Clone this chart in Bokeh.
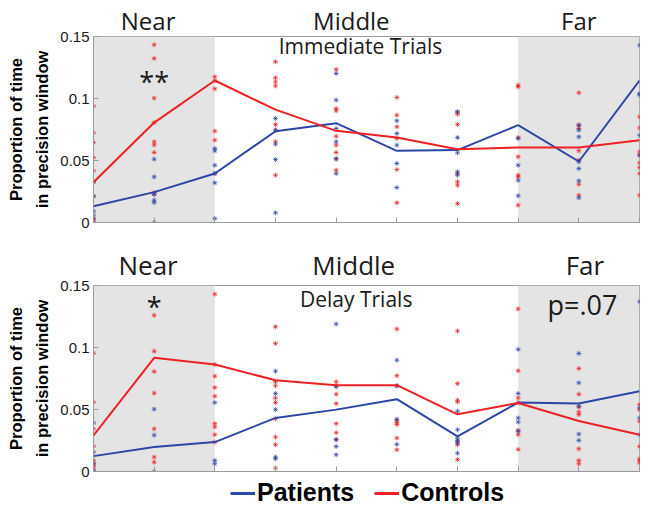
from bokeh.plotting import figure
from bokeh.models import (BoxAnnotation, Label, FixedTicker, Range1d, Legend, LegendItem, LinearAxis)
from bokeh.layouts import column
from bokeh.embed import file_html
from bokeh.resources import INLINE

# ---------------- data ----------------
positions = [1, 2, 3, 4, 5, 6, 7, 8, 9, 10]
y_ticks = [0, 0.05, 0.1, 0.15]
y_tick_labels = {0: "0", 0.05: "0.05", 0.1: "0.1", 0.15: "0.15"}
zone_names = ["Near", "Middle", "Far"]
series_names = ["Patients", "Controls"]
panel_titles = ["Immediate Trials", "Delay Trials"]
sig_marks = ["**", "*", "p=.07"]
y_label_lines = ["Proportion of time", "in precision window"]

imm_patients_mean = [0.0131, 0.0245, 0.0395, 0.0736, 0.0801, 0.0578, 0.0584, 0.0785, 0.0492, 0.1145]
imm_controls_mean = [0.0325, 0.0806, 0.1145, 0.0910, 0.0739, 0.0685, 0.0590, 0.0605, 0.0605, 0.0664]
del_patients_mean = [0.0124, 0.0197, 0.0237, 0.0432, 0.0499, 0.0583, 0.0283, 0.0556, 0.0548, 0.0647]
del_controls_mean = [0.0291, 0.0917, 0.0863, 0.0736, 0.0696, 0.0696, 0.0461, 0.0553, 0.0407, 0.0297]

imm_patients_pts = [
    [0.0328, 0.0212, 0.0091, 0.0059, 0.0032, 0.0],
    [0.0511, 0.0368, 0.0228, 0.0180, 0.0161, 0.0],
    [0.0597, 0.0578, 0.0462, 0.0395, 0.0320, 0.0032],
    [0.0839, 0.0745, 0.0632, 0.0508, 0.0078],
    [0.1202, 0.0987, 0.0758, 0.0651, 0.0516, 0.0395],
    [0.0820, 0.0718, 0.0624, 0.0476, 0.0282],
    [0.0892, 0.0685, 0.0562, 0.0409, 0.0382],
    [0.0677, 0.0462, 0.0341, 0.0215],
    [0.0785, 0.0745, 0.0691, 0.0489, 0.0435, 0.0336, 0.0199],
    [0.1430, 0.1040, 0.1027, 0.0704, 0.0543],
]
imm_controls_pts = [
    [0.0938, 0.0723, 0.0645, 0.0524, 0.0417, 0.0328, 0.0212, 0.0032, 0.0013],
    [0.1433, 0.1323, 0.1003, 0.0806, 0.0650, 0.0626, 0.0565, 0.0242, 0.0228],
    [0.1175, 0.1142, 0.1078, 0.0737, 0.0664, 0.0395],
    [0.1296, 0.1167, 0.1134, 0.1102, 0.0790, 0.0745, 0.0651, 0.0382],
    [0.1234, 0.0919, 0.0901, 0.0696, 0.0624, 0.0565, 0.0511, 0.0422],
    [0.1008, 0.0866, 0.0772, 0.0677, 0.0427, 0.0159],
    [0.0892, 0.0874, 0.0790, 0.0395, 0.0328, 0.0301, 0.0153],
    [0.1108, 0.1094, 0.0685, 0.0530, 0.0382, 0.0368, 0.0140],
    [0.1046, 0.0785, 0.0758, 0.0578, 0.0503, 0.0309, 0.0220],
    [0.0852, 0.0763, 0.0570, 0.0543, 0.0481, 0.0444, 0.0395, 0.0220],
]
del_patients_pts = [
    [0.0392, 0.0156, 0.0062, 0.0008],
    [0.0503, 0.0293, 0.0],
    [0.0556, 0.0089, 0.0062],
    [0.0809, 0.0629, 0.0499, 0.0116, 0.0103],
    [0.1190, 0.0683, 0.0256, 0.0202, 0.0135],
    [0.0898, 0.0691, 0.0421, 0.0219],
    [0.0486, 0.0337, 0.0270, 0.0251, 0.0229, 0.0148],
    [0.0985, 0.0629, 0.0432, 0.0399, 0.0324],
    [0.0952, 0.0715, 0.0526, 0.0302, 0.0251],
    [0.1370, 0.0513, 0.0432, 0.0297],
]
del_controls_pts = [
    [0.0954, 0.0559, 0.0344, 0.0204, 0.0089, 0.0067, 0.0048, 0.0027],
    [0.1260, 0.0970, 0.0806, 0.0632, 0.0344, 0.0116, 0.0075],
    [0.1430, 0.0863, 0.0769, 0.0677, 0.0607, 0.0386, 0.0359, 0.0297, 0.0237],
    [0.1168, 0.1033, 0.0723, 0.0691, 0.0593, 0.0556, 0.0426, 0.0278, 0.0216, 0.0027],
    [0.0723, 0.0691, 0.0623, 0.0548, 0.0386, 0.0313, 0.0259],
    [0.1149, 0.0772, 0.0691, 0.0413, 0.0394, 0.0378, 0.0270, 0.0175],
    [0.1133, 0.0709, 0.0575, 0.0561, 0.0243, 0.0216, 0.0097],
    [0.1311, 0.0812, 0.0593, 0.0556, 0.0332, 0.0297, 0.0178],
    [0.0831, 0.0623, 0.0521, 0.0480, 0.0459, 0.0183, 0.0089, 0.0062],
    [0.0540, 0.0499, 0.0405, 0.0202, 0.0103, 0.0089, 0.0070],
]

# ---------------- style ----------------
BLUE = "#2c46a6"
RED = "#ee2024"
SHADE = "#e4e4e4"
AXIS = "#9a9a9a"
TXT = "#1a1a1a"
LEFT, RIGHT, FW, FH = 93, 4, 546, 186


def flatten(pts):
    xs, ys = [], []
    for xpos, col in zip(positions, pts):
        for v in col:
            xs.append(xpos)
            ys.append(v)
    return xs, ys


def make_panel(pm, cm, pp, cp, title, top_border, bottom_border, zone_x, zone_std, zone_fs,
               title_x, title_y, marks, yl_std):
    p = figure(frame_width=FW, frame_height=FH, output_backend="svg",
               toolbar_location=None, x_range=Range1d(1, 10), y_range=Range1d(0, 0.15),
               min_border_left=LEFT, min_border_right=RIGHT, min_border_top=top_border,
               min_border_bottom=bottom_border)
    p.grid.visible = False
    p.outline_line_color = AXIS
    p.outline_line_width = 1
    p.background_fill_color = "white"
    p.border_fill_color = "white"

    p.add_layout(BoxAnnotation(left=1, right=3, fill_color=SHADE, fill_alpha=1, line_alpha=0, level="underlay"))
    p.add_layout(BoxAnnotation(left=8, right=10, fill_color=SHADE, fill_alpha=1, line_alpha=0, level="underlay"))

    # zone names as an upper axis
    zone_axis = LinearAxis(ticker=FixedTicker(ticks=zone_x),
                           major_label_overrides={zx: n for zx, n in zip(zone_x, zone_names)},
                           axis_line_color=None, major_tick_line_color=None, minor_tick_line_color=None,
                           major_tick_in=0, major_tick_out=0,
                           major_label_text_font="Open Sans", major_label_text_font_size=zone_fs,
                           major_label_text_line_height=1.0,
                           major_label_text_color=TXT, major_label_standoff=zone_std)
    p.add_layout(zone_axis, "above")

    # y axes
    p.yaxis.ticker = FixedTicker(ticks=y_ticks)
    p.yaxis.major_label_overrides = y_tick_labels
    p.yaxis.major_tick_in = 5
    p.yaxis.major_tick_out = 0
    p.yaxis.minor_tick_line_color = None
    p.yaxis.major_label_text_font = "Liberation Sans"
    p.yaxis.major_label_text_font_size = "15px"
    p.yaxis.major_label_text_color = TXT
    p.yaxis.major_label_standoff = 4
    p.yaxis.axis_line_color = AXIS
    p.yaxis.major_tick_line_color = AXIS
    p.yaxis.axis_label = y_label_lines[1]
    p.yaxis.axis_label_text_font = "Liberation Sans"
    p.yaxis.axis_label_text_font_style = "bold"
    p.yaxis.axis_label_text_font_size = "16.5px"
    p.yaxis.axis_label_text_color = "black"
    p.yaxis.axis_label_standoff = yl_std

    outer = LinearAxis(ticker=FixedTicker(ticks=[]), axis_label=y_label_lines[0],
                       axis_line_color=None, major_tick_line_color=None, minor_tick_line_color=None,
                       axis_label_text_font="Liberation Sans", axis_label_text_font_style="bold",
                       axis_label_text_font_size="16.5px", axis_label_text_color="black",
                       axis_label_standoff=yl_std)
    p.add_layout(outer, "left")

    # bottom x axis: ticks only
    xa = p.below[0]
    xa.ticker = FixedTicker(ticks=positions)
    xa.major_label_overrides = {i: "" for i in positions}
    xa.major_label_text_font_size = "8px"
    xa.major_label_standoff = 0
    xa.major_tick_in = 5
    xa.major_tick_out = 0
    xa.minor_tick_line_color = None
    xa.axis_line_color = AXIS
    xa.major_tick_line_color = AXIS

    # scatter points
    bx, by = flatten(pp)
    rx, ry = flatten(cp)
    p.scatter(rx, ry, marker="asterisk", size=5, line_color=RED, line_alpha=0.7, line_width=1)
    p.scatter(bx, by, marker="asterisk", size=5, line_color=BLUE, line_alpha=0.7, line_width=1)

    # mean lines
    p.line(positions, pm, line_color=BLUE, line_width=2)
    p.line(positions, cm, line_color=RED, line_width=2)

    p.add_layout(Label(x=title_x, y=title_y, text=title, text_font="Open Sans", text_font_size="21px",
                       text_align="center", text_baseline="alphabetic", text_color=TXT))
    for (txt, mx, my, fs) in marks:
        p.add_layout(Label(x=mx, y=my, text=txt, text_font="Open Sans", text_font_size=fs,
                           text_align="center", text_baseline="alphabetic", text_color=TXT))
    return p


p1 = make_panel(imm_patients_mean, imm_controls_mean, imm_patients_pts, imm_controls_pts,
                panel_titles[0], 36, 9, [1.9, 5.25, 9.0], 0, "24px", 5.40, 0.1424,
                [(sig_marks[0], 2.0, 0.1137, "27px")], 6)
p2 = make_panel(del_patients_mean, del_controls_mean, del_patients_pts, del_controls_pts,
                panel_titles[1], 54, 8, [1.9, 5.29, 9.1], 3, "26px", 5.33, 0.1392,
                [(sig_marks[1], 2.0, 0.1328, "27px"), (sig_marks[2], 9.06, 0.1345, "27px")], 6)

# legend strip: its key lines reuse the delay-trial means, kept outside the strip's visible range
p3 = figure(frame_width=FW + LEFT + RIGHT, frame_height=32, output_backend="svg", toolbar_location=None,
            x_range=Range1d(1, 10), y_range=Range1d(1, 2), min_border=0)
p3.axis.visible = False
p3.grid.visible = False
p3.outline_line_color = None
lb = p3.line(positions, del_patients_mean, line_color=BLUE, line_width=3)
lr = p3.line(positions, del_controls_mean, line_color=RED, line_width=3)
leg = Legend(items=[LegendItem(label=series_names[0], renderers=[lb]),
                    LegendItem(label=series_names[1], renderers=[lr])],
             orientation="horizontal", location=(230, 4), padding=0, margin=0, spacing=20,
             glyph_width=25, label_standoff=2, border_line_alpha=0, background_fill_alpha=0,
             label_text_font="Liberation Sans", label_text_font_style="bold",
             label_text_font_size="25px", label_text_color="black", label_height=26, glyph_height=26)
p3.add_layout(leg)

layout = column(p1, p2, p3, spacing=0)
open("out.html", "w").write(file_html(layout, INLINE))
